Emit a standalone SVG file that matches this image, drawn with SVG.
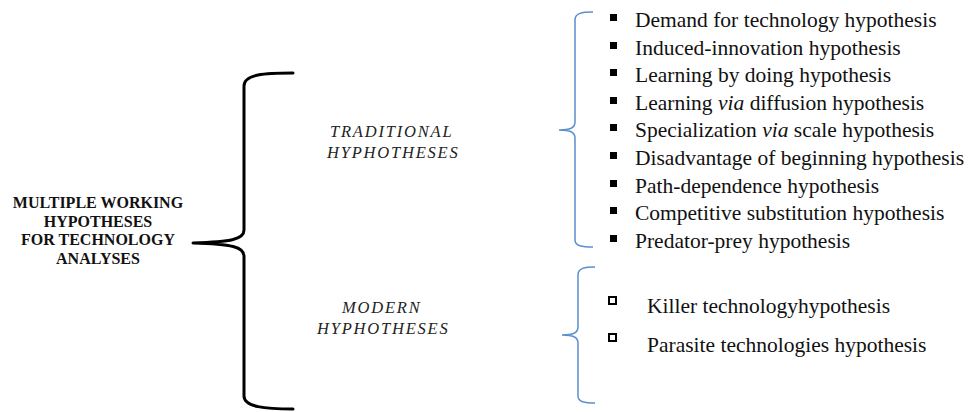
<svg xmlns="http://www.w3.org/2000/svg" width="968" height="412" viewBox="0 0 968 412">
<style>
.main{font-family:"Liberation Serif","Times New Roman",serif;font-weight:bold;font-size:16px;fill:#111;text-anchor:middle}
.cat{font-family:"Liberation Serif","Times New Roman",serif;font-style:italic;font-size:16.5px;letter-spacing:1.8px;fill:#222}
.item{font-family:"Liberation Serif","Times New Roman",serif;font-size:21.5px;fill:#111}
.it{font-style:italic}
.brace{fill:none;stroke:#000;stroke-width:3;stroke-linecap:round;stroke-linejoin:round}
.bracket{fill:none;stroke:#5b8fd0;stroke-width:1.5}
.fb{fill:#000}
.hb{fill:none;stroke:#000;stroke-width:2}
</style>
<rect width="968" height="412" fill="#fff"/>
<g id="root">
<text class="main"><tspan x="98" y="208">MULTIPLE  WORKING</tspan><tspan x="98" y="227">HYPOTHESES</tspan><tspan x="98" y="245">FOR TECHNOLOGY</tspan><tspan x="98" y="264">ANALYSES</tspan></text>
</g>
<g id="connectors">
<path class="brace" d="M293,73 C265,73 244,74 244,86 L244,230 C244,239 232,242 193,243 C232,244 244,247 244,256 L244,396 C244,407 265,409 293,409"/>
<path class="bracket" d="M593,12 C582,12 575,13 575,20 L575,122 C575,128 570,130 559,130 C570,130 575,132 575,138 L575,240 C575,246 582,247 593,247"/>
<path class="bracket" d="M595,267 C585,267 578,268 578,275 L578,327 C578,333 573,335 562,335 C573,335 578,337 578,343 L578,396 C578,402 585,403 595,403"/>
</g>
<g id="traditional">
<text class="cat"><tspan x="330" y="137">TRADITIONAL</tspan><tspan x="327" y="158">HYPHOTHESES</tspan></text>
</g>
<g id="modern">
<text class="cat"><tspan x="342" y="313">MODERN</tspan><tspan x="317" y="334">HYPHOTHESES</tspan></text>
</g>
<g id="traditional-list">
<rect class="fb" x="610" y="14" width="7" height="7"/>
<text class="item" x="635" y="27">Demand for technology hypothesis</text>
<rect class="fb" x="610" y="42" width="7" height="7"/>
<text class="item" x="635" y="55">Induced-innovation hypothesis</text>
<rect class="fb" x="610" y="69" width="7" height="7"/>
<text class="item" x="635" y="82">Learning by doing hypothesis</text>
<rect class="fb" x="610" y="97" width="7" height="7"/>
<text class="item" x="635" y="110">Learning <tspan class="it">via</tspan> diffusion hypothesis</text>
<rect class="fb" x="610" y="124" width="7" height="7"/>
<text class="item" x="635" y="137">Specialization <tspan class="it">via</tspan> scale hypothesis</text>
<rect class="fb" x="610" y="152" width="7" height="7"/>
<text class="item" x="635" y="165">Disadvantage of beginning hypothesis</text>
<rect class="fb" x="610" y="180" width="7" height="7"/>
<text class="item" x="635" y="193">Path-dependence hypothesis</text>
<rect class="fb" x="610" y="207" width="7" height="7"/>
<text class="item" x="635" y="220">Competitive substitution hypothesis</text>
<rect class="fb" x="610" y="235" width="7" height="7"/>
<text class="item" x="635" y="248">Predator-prey hypothesis</text>
</g>
<g id="modern-list">
<rect class="hb" x="609" y="297" width="7" height="7"/>
<text class="item" x="647" y="313">Killer technologyhypothesis</text>
<rect class="hb" x="609" y="334" width="7" height="7"/>
<text class="item" x="647" y="352">Parasite technologies hypothesis</text>
</g>
</svg>
